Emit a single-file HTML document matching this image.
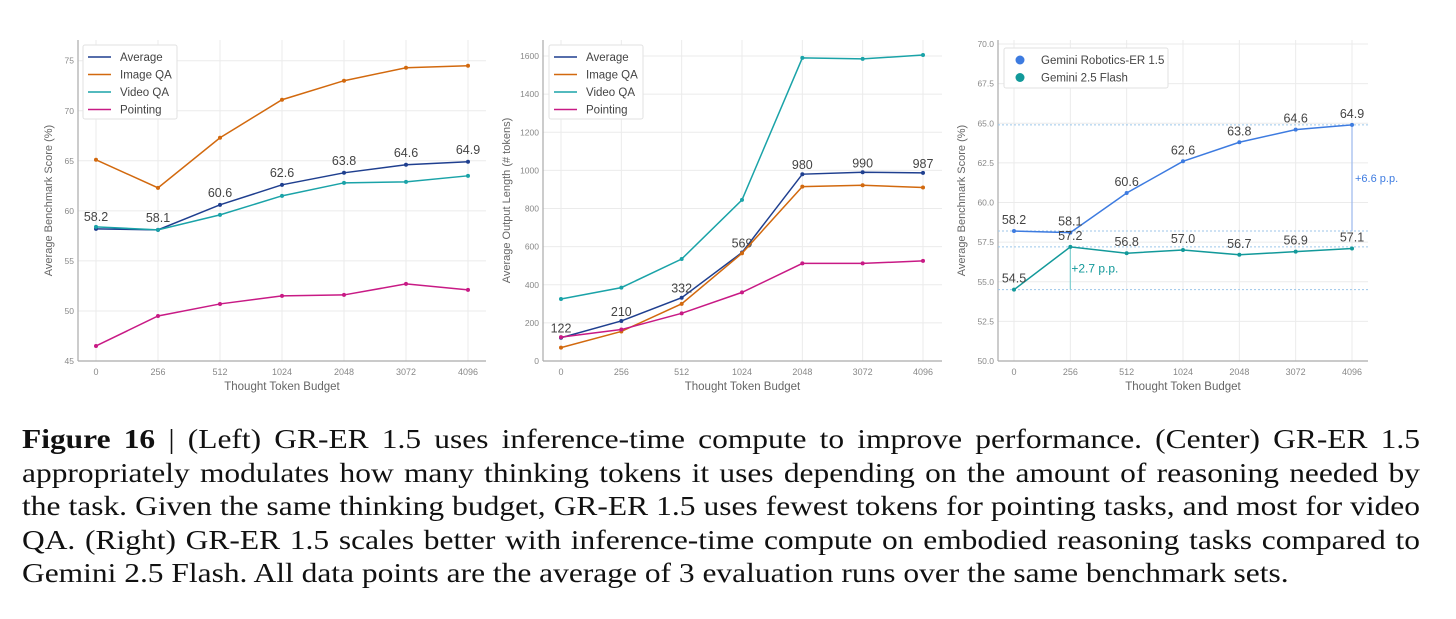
<!DOCTYPE html>
<html><head><meta charset="utf-8">
<style>
body{margin:0;background:#fff;width:1456px;height:619px;overflow:hidden;font-family:"Liberation Sans",sans-serif;}
svg{position:absolute;left:0;top:0}
#cap{position:absolute;left:22px;top:423px;width:1200px;font-family:"Liberation Serif",serif;font-size:27px;color:#111;line-height:33.6px;transform:scaleX(1.165);transform-origin:0 0}
#cap div{text-align:justify;text-align-last:justify;white-space:nowrap}
#cap div.last{text-align-last:left}
</style></head><body>
<svg id="chart" width="1456" height="400"></svg>
<div id="cap">
<div><b>Figure 16</b> | (Left) GR-ER 1.5 uses inference-time compute to improve performance. (Center) GR-ER 1.5</div>
<div>appropriately modulates how many thinking tokens it uses depending on the amount of reasoning needed by</div>
<div>the task. Given the same thinking budget, GR-ER 1.5 uses fewest tokens for pointing tasks, and most for video</div>
<div>QA. (Right) GR-ER 1.5 scales better with inference-time compute on embodied reasoning tasks compared to</div>
<div class="last">Gemini 2.5 Flash. All data points are the average of 3 evaluation runs over the same benchmark sets.</div>
</div>
<script>
const categories=["0","256","512","1024","2048","3072","4096"];
// Left
const leftAverage=[58.2,58.1,60.6,62.6,63.8,64.6,64.9];
const leftImageQA=[65.1,62.3,67.3,71.1,73.0,74.3,74.5];
const leftVideoQA=[58.4,58.1,59.6,61.5,62.8,62.9,63.5];
const leftPointing=[46.5,49.5,50.7,51.5,51.6,52.7,52.1];
const leftTicks=[45,50,55,60,65,70,75];
// Center
const midAverage=[122,210,332,569,980,990,987];
const midImageQA=[70,155,300,565,915,922,910];
const midVideoQA=[325,385,535,845,1590,1585,1605];
const midPointing=[125,165,250,360,512,512,525];
const midTicks=[0,200,400,600,800,1000,1200,1400,1600];
// Right
const rightER=[58.2,58.1,60.6,62.6,63.8,64.6,64.9];
const rightFlash=[54.5,57.2,56.8,57.0,56.7,56.9,57.1];
const rightTicks=[50.0,52.5,55.0,57.5,60.0,62.5,65.0,67.5,70.0];
const gainLabels=["+6.6 p.p.","+2.7 p.p."];

const C={avg:"#1f3f8f",img:"#d2690e",vid:"#1aa3a8",pt:"#c81a85",er:"#3d7be0",fl:"#12999a"};
const svg=document.getElementById('chart');
const NS="http://www.w3.org/2000/svg";
function mk(tag,attrs,name,parent){const e=document.createElementNS(NS,tag);for(const k in attrs)e.setAttribute(k,attrs[k]);


(parent||svg).appendChild(e);return e;}
function txt(x,y,s,attrs,name,parent){const t=mk('text',Object.assign({x:x,y:y},attrs),name,parent);t.textContent=s;return t;}

function panel(p){
  const g=mk('g',{},p.name);
  const X=i=>p.x0+i*(p.x1-p.x0)/(categories.length-1);
  const Y=v=>p.yb+(v-p.ymin)*(p.yt-p.yb)/(p.ymax-p.ymin);
  categories.forEach((c,i)=>{mk('line',{x1:X(i),x2:X(i),y1:p.top,y2:p.yb,stroke:"#ebebeb","stroke-width":1},'x-grid-line',g);
    txt(X(i),p.yb+14,c,{"font-size":9,fill:"#888","text-anchor":"middle"},'x-tick-label',g);});
  p.ticks.forEach(v=>{mk('line',{x1:p.ax,x2:p.ar,y1:Y(v),y2:Y(v),stroke:"#ebebeb","stroke-width":1},'y-grid-line',g);
    txt(p.ax-4,Y(v)+3,p.fmt(v),{"font-size":8.5,fill:"#888","text-anchor":"end"},'y-tick-label',g);});
  mk('line',{x1:p.ax,x2:p.ax,y1:p.top,y2:p.yb,stroke:"#aaa","stroke-width":1.2},'y-axis-line',g);
  mk('line',{x1:p.ax,x2:p.ar,y1:p.yb,y2:p.yb,stroke:"#aaa","stroke-width":1.2},'x-axis-line',g);
  txt((p.ax+p.ar)/2,p.yb+29,"Thought Token Budget",{"font-size":11.5,fill:"#666","text-anchor":"middle"},'x-axis-title',g);
  const ty=(p.top+p.yb)/2;
  txt(p.ytx,ty,p.ytitle,{"font-size":11,fill:"#666","text-anchor":"middle",transform:`rotate(-90 ${p.ytx} ${ty})`},'y-axis-title',g);
  (p.extra||(()=>{}))(g,X,Y);
  p.series.forEach(s=>{
    const pts=s.data.map((v,i)=>X(i)+","+Y(v)).join(" ");
    mk('polyline',{points:pts,fill:"none",stroke:s.color,"stroke-width":1.5},'line-'+s.key,g);
    s.data.forEach((v,i)=>mk('circle',{cx:X(i),cy:Y(v),r:2,fill:s.color},'point-'+s.key,g));
    if(s.labels) s.data.forEach((v,i)=>txt(X(i)+(s.lx||0),Y(v)+(s.ly||-7),s.fmtL?s.fmtL(v):String(v),{"font-size":12.5,fill:"#444","text-anchor":"middle"},'value-label-'+s.key,g));
  });
  const L=p.legend;
  mk('rect',{x:L.x,y:L.y,width:L.w,height:L.h,fill:"#fff",stroke:"#e2e2e2",rx:2},'legend',g);
  p.series.forEach((s,i)=>{const yy=L.y+12+i*17.5;
    if(L.dot) mk('circle',{cx:L.x+16,cy:yy,r:4.5,fill:s.color},'legend-marker',g);
    else mk('line',{x1:L.x+5,x2:L.x+28,y1:yy,y2:yy,stroke:s.color,"stroke-width":1.5},'legend-marker',g);
    txt(L.x+L.tx,yy+4,s.name,{"font-size":11.5,fill:"#444"},'legend-entry',g);});
}

panel({name:"left-chart",x0:96,x1:468,ax:78,ar:486,top:40,yb:361,ymin:45,ymax:75,yt:60.7,ticks:leftTicks,fmt:v=>v,ytx:52,
 ytitle:"Average Benchmark Score (%)",legend:{x:83,y:45,w:94,h:74,tx:37},
 series:[{key:"average",name:"Average",color:C.avg,data:leftAverage,labels:true,ly:-8},
  {key:"image-qa",name:"Image QA",color:C.img,data:leftImageQA},
  {key:"video-qa",name:"Video QA",color:C.vid,data:leftVideoQA},
  {key:"pointing",name:"Pointing",color:C.pt,data:leftPointing}]});

panel({name:"center-chart",x0:561,x1:923,ax:543,ar:942,top:40,yb:361,ymin:0,ymax:1600,yt:56,ticks:midTicks,fmt:v=>v,ytx:510,
 ytitle:"Average Output Length (# tokens)",legend:{x:549,y:45,w:94,h:74,tx:37},
 series:[{key:"average",name:"Average",color:C.avg,data:midAverage,labels:true,ly:-5},
  {key:"image-qa",name:"Image QA",color:C.img,data:midImageQA},
  {key:"video-qa",name:"Video QA",color:C.vid,data:midVideoQA},
  {key:"pointing",name:"Pointing",color:C.pt,data:midPointing}]});

panel({name:"right-chart",x0:1014,x1:1352,ax:998,ar:1368,top:40,yb:361,ymin:50,ymax:70,yt:44,ticks:rightTicks,fmt:v=>v.toFixed(1),ytx:965,
 ytitle:"Average Benchmark Score (%)",legend:{x:1004,y:48,w:164,h:40,tx:37,dot:true},
 extra:(g,X,Y)=>{
  const n=categories.length-1;
  [[rightER[n],C.er],[rightER[0],C.er],[rightFlash[1],C.fl],[rightFlash[0],C.fl]].forEach(d=>
    mk('line',{x1:998,x2:1368,y1:Y(d[0]),y2:Y(d[0]),stroke:"#9cc6ea","stroke-width":1,"stroke-dasharray":"2,2"},'reference-dashed-line',g));
  mk('line',{x1:X(n),x2:X(n),y1:Y(rightER[n]),y2:Y(rightER[0]),stroke:"#9bb8ec","stroke-width":1.2},'gain-arrow-er',g);
  txt(X(n)+3,Y((rightER[n]+rightER[0])/2)+4,gainLabels[0],{"font-size":11,fill:C.er},'gain-label-er',g);
  mk('line',{x1:X(1),x2:X(1),y1:Y(rightFlash[1]),y2:Y(rightFlash[0]),stroke:"#7fcfd0","stroke-width":1.2},'gain-arrow-flash',g);
  txt(X(1)+1,Y((rightFlash[1]+rightFlash[0])/2)+4,gainLabels[1],{"font-size":12,fill:C.fl},'gain-label-flash',g);
 },
 series:[{key:"gemini-robotics-er",name:"Gemini Robotics-ER 1.5",color:C.er,data:rightER,labels:true,ly:-7,fmtL:v=>v.toFixed(1)},
  {key:"gemini-flash",name:"Gemini 2.5 Flash",color:C.fl,data:rightFlash,labels:true,ly:-7,fmtL:v=>v.toFixed(1)}]});
</script>
</body></html>
